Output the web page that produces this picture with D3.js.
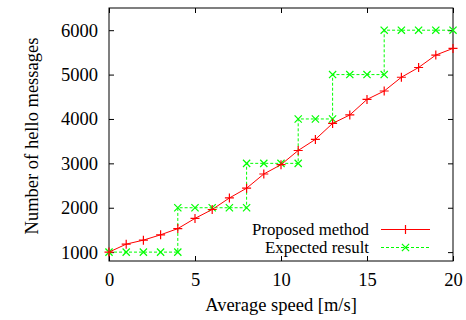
<!DOCTYPE html>
<html><head><meta charset="utf-8">
<script src="https://cdn.jsdelivr.net/npm/d3@7"></script>
<style>body{margin:0;background:#fff;} svg{display:block;}</style>
</head><body><svg id="c" width="466" height="320"></svg>
<script>
const speeds = [0,1,2,3,4,5,6,7,8,9,10,11,12,13,14,15,16,17,18,19,20];
const proposed = [1000,1180,1270,1390,1530,1760,1960,2220,2440,2760,2970,3290,3540,3900,4090,4440,4630,4940,5160,5440,5590];
const expectedX = [0,1,2,3,4,4,5,6,7,8,8,9,10,11,11,12,13,13,14,15,16,16,17,18,19,20];
const expectedY = [1000,1000,1000,1000,1000,2000,2000,2000,2000,2000,3000,3000,3000,3000,4000,4000,4000,5000,5000,5000,5000,6000,6000,6000,6000,6000];
const xTicks = [0,5,10,15,20];
const yTicks = [1000,2000,3000,4000,5000,6000];
const seriesNames = ["Proposed method","Expected result"];

const FONT = "'Liberation Serif', 'Times New Roman', Times, serif";
const svg = d3.select("#c");
const L=109, R=453, T=8, B=261;
const x = d3.scaleLinear().domain([0,20]).range([L,R]);
const y = d3.scaleLinear().domain([800,6500]).range([B,T]);
const fs = 18.5, fsLeg = 16.8;

svg.append("rect").attr("x",L).attr("y",T).attr("width",R-L).attr("height",B-T)
  .attr("fill","none").attr("stroke","#000").attr("stroke-width",1);

const tk=5;
const axB = d3.axisBottom(x).tickValues(xTicks).tickSizeInner(-tk).tickSizeOuter(0).tickPadding(12);
const gB = svg.append("g").attr("transform",`translate(0,${B})`).call(axB);
const axT = d3.axisTop(x).tickValues(xTicks).tickSizeInner(-tk).tickSizeOuter(0).tickFormat("");
const gT = svg.append("g").attr("transform",`translate(0,${T})`).call(axT);
const axL = d3.axisLeft(y).tickValues(yTicks).tickSizeInner(-tk).tickSizeOuter(0).tickPadding(11).tickFormat(d3.format("d"));
const gL = svg.append("g").attr("transform",`translate(${L},0)`).call(axL);
const axR = d3.axisRight(y).tickValues(yTicks).tickSizeInner(-tk).tickSizeOuter(0).tickFormat("");
const gR = svg.append("g").attr("transform",`translate(${R},0)`).call(axR);
[gB,gT,gL,gR].forEach(g=>{g.select(".domain").remove();g.selectAll("line").attr("stroke","#000");
  g.attr("font-family",null).attr("font-size",null);
  g.selectAll("text").style("font-size",fs+"px").style("font-family",FONT);});

svg.append("text").attr("x",281).attr("y",311).attr("text-anchor","middle").style("font-size",fs+"px").style("font-family",FONT).text("Average speed [m/s]");
svg.append("text").attr("transform",`translate(38,136) rotate(-90)`).attr("text-anchor","middle").style("font-size",fs+"px").style("font-family",FONT).text("Number of hello messages");

const red="#ff0000", green="#00ff00";
function plus(g,cx,cy,c){const s=4.5;g.append("path").attr("d",`M${cx-s},${cy}H${cx+s}M${cx},${cy-s}V${cy+s}`).attr("stroke",c).attr("stroke-width",1.2).attr("fill","none");}
function cross(g,cx,cy,c){const s=3.6;g.append("path").attr("d",`M${cx-s},${cy-s}L${cx+s},${cy+s}M${cx-s},${cy+s}L${cx+s},${cy-s}`).attr("stroke",c).attr("stroke-width",1.2).attr("fill","none");}

const expData = expectedX.map((v,i)=>[v,expectedY[i]]);
const propData = speeds.map((v,i)=>[v,proposed[i]]);
const line = d3.line().x(d=>x(d[0])).y(d=>y(d[1]));
const gE = svg.append("g"), gP = svg.append("g");
gE.append("path").attr("d",line(expData)).attr("fill","none").attr("stroke",green).attr("stroke-width",1).attr("stroke-dasharray","3,2");
expData.forEach(d=>cross(gE,x(d[0]),y(d[1]),green));
gP.append("path").attr("d",line(propData)).attr("fill","none").attr("stroke",red).attr("stroke-width",1);
propData.forEach(d=>plus(gP,x(d[0]),y(d[1]),red));

const leg = svg.append("g");
const rows=[{n:seriesNames[0],c:red,dash:null,m:plus,y:229.5},{n:seriesNames[1],c:green,dash:"3,2",m:cross,y:247.5}];
rows.forEach(r=>{
  leg.append("text").attr("x",369).attr("y",r.y).attr("dy","0.35em").attr("text-anchor","end").style("font-size",fsLeg+"px").style("font-family",FONT).text(r.n);
  leg.append("line").attr("x1",381).attr("x2",430).attr("y1",r.y).attr("y2",r.y).attr("stroke",r.c).attr("stroke-dasharray",r.dash);
  r.m(leg,405.5,r.y,r.c);
});
</script></body></html>
